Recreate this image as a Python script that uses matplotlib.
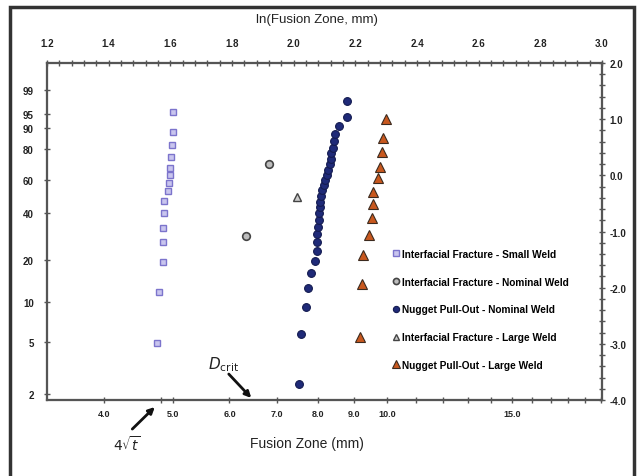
import numpy as np
import matplotlib.pyplot as plt
from matplotlib.ticker import FixedLocator, FixedFormatter, MultipleLocator, FormatStrFormatter, NullLocator, NullFormatter

plt.rcParams['font.family'] = ['Liberation Sans', 'DejaVu Sans']

# fusion zone size (mm) and cumulative failure probability (%)
small_if_d = [4.74, 4.77, 4.83, 4.84, 4.84, 4.85, 4.85, 4.92, 4.93, 4.94, 4.94, 4.96, 4.975, 4.99, 5.00]
small_if_p = [4.9, 11.8, 19.1, 26.1, 32.6, 40.3, 46.7, 52.8, 58.0, 63.2, 67.8, 74.8, 81.9, 88.4, 95.4]

nom_if_d = [6.33, 6.81]
nom_if_p = [28.9, 70.4]

nom_npo_d = [7.52, 7.56, 7.68, 7.73, 7.82, 7.93, 7.96, 7.97, 7.98, 8.00, 8.02, 8.02, 8.04, 8.05,
             8.07, 8.11, 8.15, 8.19, 8.23, 8.27, 8.31, 8.33, 8.35, 8.39, 8.41, 8.46, 8.57, 8.78, 8.78]
nom_npo_p = [2.4, 5.8, 9.2, 12.6, 16.0, 19.4, 22.8, 26.2, 29.6, 33.0, 36.4, 39.8, 43.2, 46.6,
             50.0, 53.4, 56.8, 60.2, 63.6, 67.0, 70.4, 73.8, 77.2, 80.6, 84.0, 87.4, 90.8, 94.2, 97.6]

large_if_d = [7.46]
large_if_p = [49.5]

large_npo_d = [9.16, 9.21, 9.26, 9.44, 9.52, 9.55, 9.57, 9.72, 9.78, 9.83, 9.88, 9.97]
large_npo_p = [5.5, 13.5, 21.4, 29.1, 37.5, 44.9, 52.6, 61.2, 68.9, 77.9, 85.6, 93.5]

bottom_ticks = [4.0, 5.0, 6.0, 7.0, 8.0, 9.0, 10.0, 15.0]
bottom_minor = [4.81, 11, 12, 13, 14, 16, 17, 18, 19, 20]
left_ticks = [2, 5, 10, 20, 40, 60, 80, 90, 95, 99]


def weib(p):
    p = np.clip(np.asarray(p, dtype=float), 1e-9, 100 - 1e-9)
    return np.log(-np.log(1 - p / 100.0))


def weib_inv(w):
    w = np.clip(np.asarray(w, dtype=float), -50, 5)
    return 100.0 * (1 - np.exp(-np.exp(w)))


spine_c = '#555555'
txt_c = '#222222'

fig = plt.figure(figsize=(6.43, 4.77), dpi=100)
ax = fig.add_axes([47 / 643, 1 - 401 / 477, 555 / 643, 337 / 477])

ax.set_xscale('log')
ax.set_yscale('function', functions=(weib, weib_inv))
ax.set_xlim(np.exp(1.2), np.exp(3.0))
ax.set_ylim(weib_inv(-4.0), weib_inv(2.0))

ax.plot(small_if_d, small_if_p, 's', ms=5, mfc='#c9c5ee', mec='#7c74cc', mew=1,
        label='Interfacial Fracture - Small Weld')
ax.plot(nom_if_d, nom_if_p, 'o', ms=5.5, mfc='#bdbdbd', mec='#444444', mew=1.2,
        label='Interfacial Fracture - Nominal Weld')
ax.plot(nom_npo_d, nom_npo_p, 'o', ms=5.6, mfc='#1f2a78', mec='#141b50', mew=0.8,
        label='Nugget Pull-Out - Nominal Weld')
ax.plot(large_if_d, large_if_p, '^', ms=6, mfc='#cccccc', mec='#444444', mew=1,
        label='Interfacial Fracture - Large Weld')
ax.plot(large_npo_d, large_npo_p, '^', ms=6.5, mfc='#c8581e', mec='#3b2a1f', mew=0.8,
        label='Nugget Pull-Out - Large Weld')

# bottom axis: fusion zone, log spaced
ax.xaxis.set_major_locator(FixedLocator(bottom_ticks))
ax.xaxis.set_major_formatter(FormatStrFormatter('%.1f'))
ax.xaxis.set_minor_locator(FixedLocator(bottom_minor))
ax.xaxis.set_minor_formatter(NullFormatter())

# left axis: probability in %
ax.yaxis.set_major_locator(FixedLocator(left_ticks))
ax.yaxis.set_major_formatter(FixedFormatter([str(v) for v in left_ticks]))
ax.yaxis.set_minor_locator(NullLocator())

ax.tick_params(axis='x', which='both', direction='inout', length=5, width=1, color=spine_c,
               labelsize=6.5, labelcolor=txt_c, pad=4)
ax.tick_params(axis='y', which='both', direction='inout', length=5, width=1, color=spine_c,
               labelsize=7, labelcolor=txt_c, pad=7)
for lab in ax.get_xticklabels() + ax.get_yticklabels():
    lab.set_fontweight('bold')

# top axis: ln of fusion zone
axt = ax.twiny()
axt.set_xlim(1.2, 3.0)
axt.xaxis.set_major_locator(MultipleLocator(0.2))
axt.xaxis.set_minor_locator(MultipleLocator(0.04))
axt.xaxis.set_major_formatter(FormatStrFormatter('%.1f'))
axt.tick_params(axis='x', which='major', direction='inout', length=5, width=1, color=spine_c,
                labelsize=7, labelcolor=txt_c, pad=8)
axt.tick_params(axis='x', which='minor', direction='inout', length=4, width=1, color=spine_c)

# right axis: ln(-ln(1-F))
axr = ax.twinx()
axr.set_ylim(-4.0, 2.0)
axr.yaxis.set_major_locator(MultipleLocator(1.0))
axr.yaxis.set_minor_locator(MultipleLocator(0.2))
axr.yaxis.set_major_formatter(FormatStrFormatter('%.1f'))
axr.tick_params(axis='y', which='major', direction='inout', length=5, width=1, color=spine_c,
                labelsize=7, labelcolor=txt_c, pad=3)
axr.tick_params(axis='y', which='minor', direction='inout', length=4, width=1, color=spine_c)

for a in (ax, axt, axr):
    for s in a.spines.values():
        s.set_color(spine_c)
        s.set_linewidth(1.5)
for lab in axt.get_xticklabels() + axr.get_yticklabels():
    lab.set_fontweight('bold')

fig.text(317 / 643, 1 - 20 / 477, 'ln(Fusion Zone, mm)', ha='center', va='center',
         fontsize=9.5, color=txt_c)
fig.text(307 / 643, 1 - 444 / 477, 'Fusion Zone (mm)', ha='center', va='center',
         fontsize=10, color=txt_c)

ax.legend(loc='upper left', bbox_to_anchor=(393 / 643, 1 - 250 / 477), bbox_transform=fig.transFigure,
          frameon=False, prop={'size': 7.3, 'weight': 'bold'}, handlelength=0.6, handletextpad=0.3,
          labelspacing=1.75, borderpad=0, borderaxespad=0, markerscale=0.8)

# annotations
arr = dict(arrowstyle='-|>', color='#111111', lw=2, mutation_scale=9)
ax.annotate('', xy=(6.48, 0.0), xycoords=('data', 'axes fraction'),
            xytext=(5.95, 0.083), textcoords=('data', 'axes fraction'),
            arrowprops=arr, annotation_clip=False)
ax.text(5.60, 0.107, r'$\mathbf{\mathit{D}}_{\mathrm{crit}}$', transform=ax.get_xaxis_transform(),
        ha='left', va='center', fontsize=11, color=txt_c)
ax.annotate('', xy=(4.74, -0.015), xycoords=('data', 'axes fraction'),
            xytext=(4.35, -0.092), textcoords=('data', 'axes fraction'),
            arrowprops=arr, annotation_clip=False)
ax.text(4.30, -0.128, r'$4\sqrt{t}$', transform=ax.get_xaxis_transform(),
        ha='center', va='center', fontsize=10, color=txt_c, clip_on=False)

fig.add_artist(plt.Rectangle((10 / 643, -0.1), 624 / 643, 1.1 - 8 / 477, transform=fig.transFigure,
                             fill=False, lw=2.5, ec='#333333'))

fig.savefig('out.png', dpi=100)
